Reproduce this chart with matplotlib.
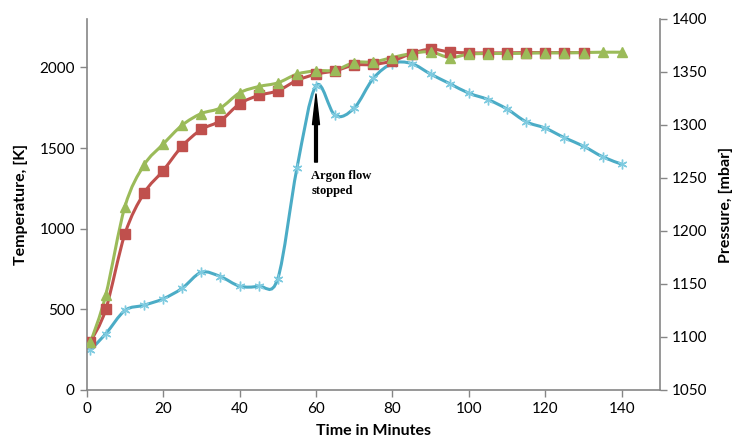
import matplotlib
matplotlib.use('Agg')
import matplotlib.pyplot as plt
from matplotlib.path import Path
from matplotlib.patches import PathPatch
import numpy as np

plt.rcParams['font.family'] = ['Lato', 'DejaVu Sans']

# time in minutes
t_all = [1, 5, 10, 15, 20, 25, 30, 35, 40, 45, 50, 55, 60, 65, 70, 75, 80, 85,
         90, 95, 100, 105, 110, 115, 120, 125, 130, 135, 140]
t_red = t_all[:27]

temp_red = [300, 500, 967, 1220, 1360, 1512, 1615, 1669, 1774, 1826, 1855, 1919,
            1958, 1979, 2014, 2018, 2040, 2086, 2113, 2096, 2090, 2090, 2090,
            2092, 2092, 2092, 2092]
temp_green = [295, 589, 1136, 1394, 1524, 1642, 1714, 1749, 1842, 1881, 1904,
              1958, 1979, 1983, 2030, 2034, 2061, 2086, 2096, 2061, 2082, 2086,
              2086, 2088, 2090, 2090, 2092, 2094, 2094]
pressure = [1088, 1103, 1125, 1130, 1136, 1146, 1161, 1157, 1148, 1148, 1155,
            1259, 1337, 1309, 1316, 1344, 1358, 1358, 1348, 1339, 1330, 1324,
            1315, 1303, 1297, 1288, 1280, 1270, 1263]

x_ticks = [0, 20, 40, 60, 80, 100, 120, 140]
temp_ticks = [0, 500, 1000, 1500, 2000]
pres_ticks = [1050, 1100, 1150, 1200, 1250, 1300, 1350, 1400]

RED = '#C0504D'
GREEN = '#9BBB59'
BLUE = '#4BACC6'
GREY = '#868686'


def smooth_path(x, y):
    # excel-like smoothed line through the data points (bezier segments)
    pts = np.column_stack([x, y]).astype(float)
    n = len(pts)
    verts = [pts[0]]
    codes = [Path.MOVETO]
    for i in range(n - 1):
        p0 = pts[i - 1] if i > 0 else pts[i]
        p1 = pts[i]
        p2 = pts[i + 1]
        p3 = pts[i + 2] if i + 2 < n else pts[i + 1]
        verts += [p1 + (p2 - p0) / 6, p2 - (p3 - p1) / 6, p2]
        codes += [Path.CURVE4] * 3
    return Path(verts, codes)


fig = plt.figure(figsize=(7.37, 4.48), dpi=100)
ax = fig.add_axes([0.1176, 0.1295, 0.8955 - 0.1176, 0.9576 - 0.1295])
ax2 = ax.twinx()

ax2.add_patch(PathPatch(smooth_path(t_all, pressure), facecolor='none',
                        edgecolor=BLUE, lw=2.2, zorder=2))
ax2.plot(t_all, pressure, linestyle='none', marker=(6, 2, 0), ms=7,
         mec='#7FCBE0', mew=1.0, zorder=3)

ax.add_patch(PathPatch(smooth_path(t_red, temp_red), facecolor='none',
                       edgecolor=RED, lw=2.2, zorder=2))
ax.plot(t_red, temp_red, linestyle='none', marker='s', ms=6.5,
        mfc=RED, mec=RED, zorder=3)
ax.add_patch(PathPatch(smooth_path(t_all, temp_green), facecolor='none',
                       edgecolor=GREEN, lw=2.2, zorder=2))
ax.plot(t_all, temp_green, linestyle='none', marker='^', ms=6.5,
        mfc=GREEN, mec=GREEN, zorder=3)

# put temperature axis on top of the pressure axis
ax.set_zorder(ax2.get_zorder() + 1)
ax.patch.set_visible(False)

ax.set_xlim(0, 150)
ax.set_ylim(0, 2300)
ax2.set_ylim(1050, 1400)
ax.set_xticks(x_ticks)
ax.set_yticks(temp_ticks)
ax2.set_yticks(pres_ticks)

for a in (ax, ax2):
    a.spines['top'].set_visible(False)
    for s in ('left', 'right', 'bottom'):
        a.spines[s].set_color(GREY)
        a.spines[s].set_linewidth(1.2)
    a.tick_params(colors=GREY, labelcolor='black', labelsize=11,
                  length=5, width=1, direction='out')
ax.spines['right'].set_visible(False)
ax2.spines['left'].set_visible(False)
ax2.spines['bottom'].set_visible(False)

ax.set_xlabel('Time in Minutes', fontsize=11.5, fontweight='bold', labelpad=6)
ax.set_ylabel('Temperature, [K]', fontsize=11.5, fontweight='bold', labelpad=8)
ax2.set_ylabel('Pressure, [mbar]', fontsize=11.5, fontweight='bold', labelpad=8)

ax.annotate('', xy=(60, 1835), xytext=(60, 1413),
            arrowprops=dict(facecolor='black', edgecolor='black', width=2,
                            headwidth=5, headlength=22))
ax.text(58.8, 1363, 'Argon flow\nstopped', fontsize=9, fontweight='bold',
        family=['Liberation Serif', 'DejaVu Serif'], va='top', ha='left',
        linespacing=1.3)

fig.savefig('out.png', dpi=100)
